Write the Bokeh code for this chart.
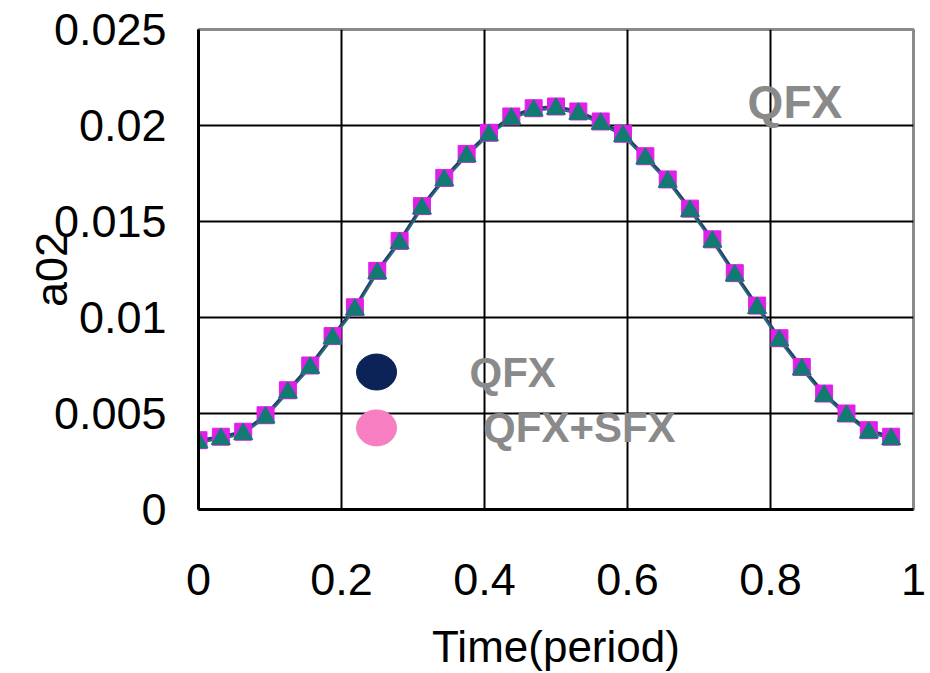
import math
from bokeh.plotting import figure
from bokeh.models import FixedTicker, Label, ColumnDataSource
from bokeh.embed import file_html
from bokeh.resources import INLINE

# ---- data ----
time_period = [i / 32 for i in range(32)]
a02_qfx = [0.00349, 0.00367, 0.00393, 0.00479, 0.00609, 0.00738, 0.00891, 0.01041,
           0.01231, 0.01387, 0.01568, 0.01715, 0.01840, 0.01950, 0.02035, 0.02078,
           0.02087, 0.02061, 0.02009, 0.01945, 0.01828, 0.01707, 0.01555, 0.01395,
           0.01219, 0.01050, 0.00880, 0.00730, 0.00592, 0.00488, 0.00401, 0.00367]
a02_qfx_sfx = [0.00361, 0.00379, 0.00405, 0.00491, 0.00621, 0.00750, 0.00903, 0.01053,
               0.01243, 0.01399, 0.01580, 0.01727, 0.01852, 0.01962, 0.02047, 0.02090,
               0.02099, 0.02073, 0.02021, 0.01957, 0.01840, 0.01719, 0.01567, 0.01407,
               0.01231, 0.01062, 0.00892, 0.00742, 0.00604, 0.00500, 0.00413, 0.00379]

x_ticks = [0, 0.2, 0.4, 0.6, 0.8, 1]
x_tick_labels = ["0", "0.2", "0.4", "0.6", "0.8", "1"]
y_ticks = [0, 0.005, 0.01, 0.015, 0.02, 0.025]
y_tick_labels = ["0", "0.005", "0.01", "0.015", "0.02", "0.025"]

legend_names = ["QFX", "QFX+SFX"]
legend_x = [0.249, 0.249]
legend_y = [0.00716, 0.00425]
legend_colors = ["#0B2356", "#F77EC0"]
text_x = [0.379, 0.398]
corner_label = "QFX"

FONT = "Liberation Sans"

p = figure(width=930, height=673, output_backend="svg", toolbar_location=None,
           x_range=(0, 1), y_range=(0, 0.025),
           min_border_left=198, min_border_right=17, min_border_top=29, min_border_bottom=163)
p.background_fill_color = "white"
p.border_fill_color = "white"
p.outline_line_color = "#8A8A8A"
p.outline_line_width = 3

# axes
p.xaxis.ticker = FixedTicker(ticks=x_ticks)
p.yaxis.ticker = FixedTicker(ticks=y_ticks)
p.xaxis.major_label_overrides = {t: l for t, l in zip(x_ticks, x_tick_labels)}
p.yaxis.major_label_overrides = {t: l for t, l in zip(y_ticks, y_tick_labels)}
for ax in (p.xaxis[0], p.yaxis[0]):
    ax.major_tick_in = 0
    ax.major_tick_out = 0
    ax.minor_tick_in = 0
    ax.minor_tick_out = 0
    ax.axis_line_color = "black"
    ax.axis_line_width = 3
    ax.major_label_text_font = FONT
    ax.major_label_text_font_size = "45px"
    ax.major_label_text_color = "black"
p.xaxis.major_label_standoff = 54
p.yaxis.major_label_standoff = 32
p.xaxis.axis_label = "Time(period)"
p.xaxis.axis_label_text_font = FONT
p.xaxis.axis_label_text_font_size = "44px"
p.xaxis.axis_label_text_font_style = "normal"
p.xaxis.axis_label_text_color = "black"
p.xaxis.axis_label_standoff = 24

p.yaxis.axis_label = "a02"
p.yaxis.axis_label_text_font = FONT
p.yaxis.axis_label_text_font_size = "45px"
p.yaxis.axis_label_text_font_style = "normal"
p.yaxis.axis_label_text_color = "black"
p.yaxis.axis_label_standoff = -26

p.xgrid.grid_line_color = "black"
p.ygrid.grid_line_color = "black"
p.xgrid.grid_line_width = 2
p.ygrid.grid_line_width = 2

# series
p.line(time_period, a02_qfx_sfx, line_color="#26406E", line_width=3)
p.line(time_period, a02_qfx, line_color="#2A6A78", line_width=2)
p.scatter(time_period, a02_qfx_sfx, marker="square", size=17, fill_color="#E020E8",
          line_color="#E020E8")
p.scatter(time_period, a02_qfx, marker="triangle", size=19, fill_color="#137A72",
          line_color="#137A72")

# in-plot legend-like annotation
src = ColumnDataSource(dict(x=legend_x, y=legend_y, c=legend_colors))
p.ellipse(x="x", y="y", width=40, height=36, width_units="screen", height_units="screen",
          fill_color="c", line_color="c", source=src)
for tx, ty, name in zip(text_x, legend_y, legend_names):
    p.add_layout(Label(x=tx, y=ty, text=name, text_align="left", text_baseline="middle",
                       text_font=FONT, text_font_size="42px", text_font_style="bold",
                       text_color="#8A8A8A"))
p.add_layout(Label(x=0.768, y=0.0212, text=corner_label, text_align="left", text_baseline="middle",
                   text_font=FONT, text_font_size="46px", text_font_style="bold",
                   text_color="#8A8A8A"))

open("out.html", "w").write(file_html(p, INLINE))
